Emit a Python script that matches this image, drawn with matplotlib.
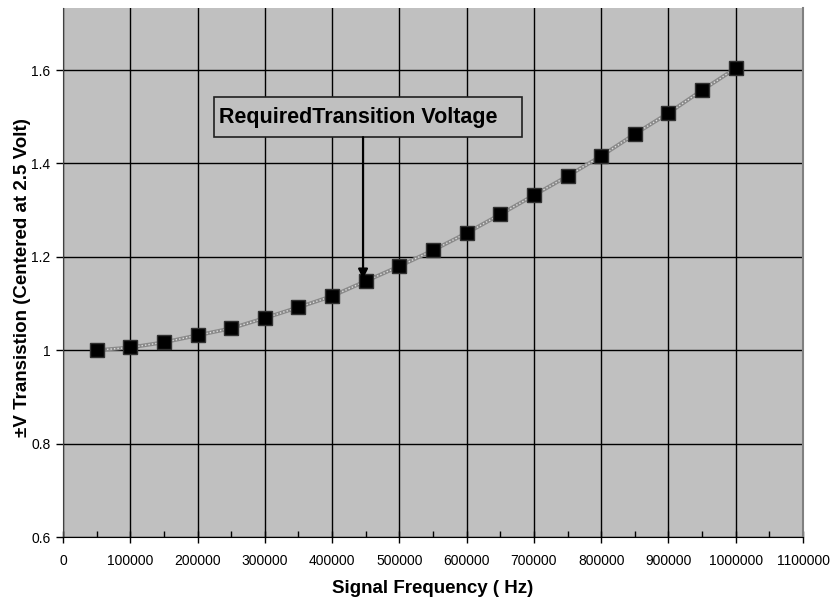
import matplotlib.pyplot as plt
from matplotlib.patches import Rectangle
from matplotlib.ticker import MultipleLocator

plt.rcParams['font.family'] = ['Liberation Sans', 'DejaVu Sans']

# frequency (Hz) and transition voltage
freq = [50000, 100000, 150000, 200000, 250000, 300000, 350000, 400000, 450000, 500000,
        550000, 600000, 650000, 700000, 750000, 800000, 850000, 900000, 950000, 1000000]
volt = [1.000, 1.006, 1.017, 1.032, 1.047, 1.069, 1.092, 1.116, 1.148, 1.180,
        1.214, 1.251, 1.291, 1.332, 1.373, 1.416, 1.463, 1.508, 1.557, 1.604]

x_ticks = list(range(0, 1100001, 100000))
y_ticks = [0.6, 0.8, 1.0, 1.2, 1.4, 1.6]
y_tick_labels = ['0.6', '0.8', '1', '1.2', '1.4', '1.6']

fig = plt.figure(figsize=(8.39, 5.99), dpi=100)
ax = fig.add_axes([0.0751, 0.1035, 0.882, 0.8831])
ax.set_facecolor('#c0c0c0')

ax.set_xlim(0, 1100000)
ax.set_ylim(0.6, 1.733)
ax.set_xticks(x_ticks)
ax.set_xticklabels([str(v) for v in x_ticks], fontsize=10)
ax.xaxis.set_minor_locator(MultipleLocator(50000))
ax.set_yticks(y_ticks)
ax.set_yticklabels(y_tick_labels, fontsize=10)

ax.grid(True, which='major', color='black', linewidth=1)
ax.set_axisbelow(True)
ax.tick_params(axis='x', which='major', direction='inout', length=8, width=1, pad=8)
ax.tick_params(axis='x', which='minor', direction='in', length=4, width=1)
ax.tick_params(axis='y', which='major', direction='out', length=5, width=1, pad=4)

ax.spines['top'].set_visible(False)
ax.spines['right'].set_color('#808080')
ax.spines['right'].set_linewidth(1.5)
ax.spines['left'].set_color('#404040')
ax.spines['bottom'].set_color('black')

# hatched grey line with black square markers
ax.plot(freq, volt, color='#8a8a8a', linewidth=2.8, zorder=3)
ax.plot(freq, volt, color='#e0e0e0', linewidth=1, linestyle=(0, (1, 1.5)), zorder=3)
ax.plot(freq, volt, linestyle='none', marker='s', markersize=10,
        markerfacecolor='black', markeredgecolor='#303030', zorder=4)

# annotation box with arrow
ax.add_patch(Rectangle((224500, 1.4565), 457800, 0.0857, facecolor='#c0c0c0',
                       edgecolor='#202020', linewidth=1.2, zorder=5))
ax.text(231900, 1.4994, 'RequiredTransition Voltage', fontsize=15.5, fontweight='bold',
        ha='left', va='center', zorder=6)
ax.annotate('', xy=(446000, 1.153), xytext=(446000, 1.4565),
            arrowprops=dict(arrowstyle='-|>', color='black', lw=1.6, mutation_scale=14,
                            shrinkA=0, shrinkB=0), zorder=5)

ax.set_xlabel('Signal Frequency ( Hz)', fontsize=13.5, fontweight='bold', labelpad=9)
ax.set_ylabel('±V Transistion (Centered at 2.5 Volt)', fontsize=13.5, fontweight='bold')
ax.yaxis.set_label_coords(-0.043, 0.49)

plt.savefig('out.png', dpi=100)
